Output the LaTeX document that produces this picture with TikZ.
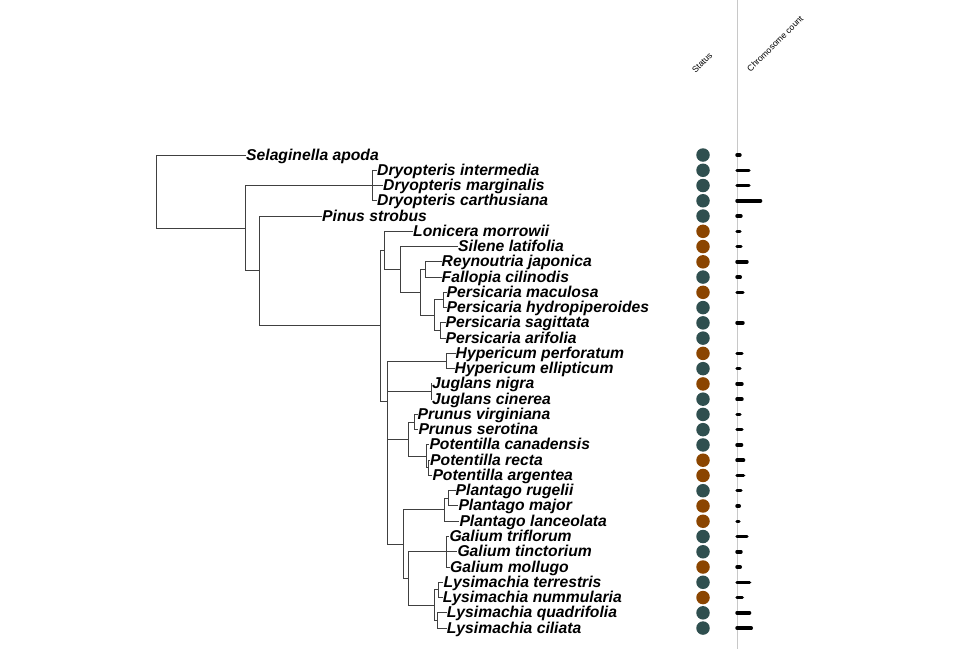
\documentclass[tikz,border=0pt]{standalone}
\usepackage{fontspec}
\setmainfont{Liberation Sans}
\definecolor{stteal}{HTML}{2F4F4F}
\definecolor{stbrown}{HTML}{8B4500}
\definecolor{branchcol}{HTML}{404040}
\definecolor{axiscol}{HTML}{C8C8C8}
\begin{document}
\begin{tikzpicture}[x=1pt,y=-1pt,
  branch/.style={draw=branchcol,line width=1pt},
  tiplab/.style={anchor=base west,inner sep=0pt,font=\fontsize{15.7}{17}\selectfont\bfseries\itshape},
  headlab/.style={anchor=base west,inner sep=0pt,rotate=45,font=\fontsize{8.6}{10}\selectfont},
  dot/.style={circle,inner sep=0pt,minimum size=13.5pt,draw=none},
  bar/.style={line width=3.5pt,line cap=round,draw=black}]
\useasboundingbox (0,0) rectangle (960,649);
% tips and labels
\foreach \i/\x/\name in {
 1/246/Selaginella apoda,
 2/377/Dryopteris intermedia,
 3/383/Dryopteris marginalis,
 4/377/Dryopteris carthusiana,
 5/322/Pinus strobus,
 6/413/Lonicera morrowii,
 7/458/Silene latifolia,
 8/441.5/Reynoutria japonica,
 9/441.5/Fallopia cilinodis,
 10/446.5/Persicaria maculosa,
 11/446.5/Persicaria hydropiperoides,
 12/445.5/Persicaria sagittata,
 13/445.5/Persicaria arifolia,
 14/455.5/Hypericum perforatum,
 15/454.5/Hypericum ellipticum,
 16/432/Juglans nigra,
 17/432/Juglans cinerea,
 18/417.5/Prunus virginiana,
 19/418.3/Prunus serotina,
 20/429.3/Potentilla canadensis,
 21/430/Potentilla recta,
 22/432.3/Potentilla argentea,
 23/455.5/Plantago rugelii,
 24/458.3/Plantago major,
 25/459.3/Plantago lanceolata,
 26/449.3/Galium triflorum,
 27/457.3/Galium tinctorium,
 28/450/Galium mollugo,
 29/443.3/Lysimachia terrestris,
 30/442.7/Lysimachia nummularia,
 31/446.7/Lysimachia quadrifolia,
 32/446.7/Lysimachia ciliata}{
  \pgfmathsetmacro\yy{155+15.26*(\i-1)}
  \coordinate (t\i) at (\x,\yy);
  \node[tiplab] (l\i) at (\x,\yy+5) {\name};
}
% internal nodes
\coordinate (R) at (156,191.6);
\coordinate (N1) at (245.3,228.23);
\coordinate (D) at (372,185.52);
\coordinate (N2) at (259,270.94);
\coordinate (N3) at (380.7,325.84);
\coordinate (N4) at (384.7,250.38);
\coordinate (N5) at (400.7,269.45);
\coordinate (N6) at (420.7,292.34);
\coordinate (N7) at (425.7,269.45);
\coordinate (N8) at (434.5,315.23);
\coordinate (N9) at (443,299.97);
\coordinate (N10) at (440,330.49);
\coordinate (N11a) at (387.3,401.3);
\coordinate (N11b) at (387.3,441.6);
\coordinate (N11c) at (387.3,491.68);
\coordinate (Hyp) at (446.3,361.01);
\coordinate (Jug) at (431.3,391.53);
\coordinate (Ros) at (408,439.22);
\coordinate (Pru) at (414,422.05);
\coordinate (Pot) at (426.3,456.39);
\coordinate (Pot2) at (428,467.83);
\coordinate (PGL) at (403,544.13);
\coordinate (Pla) at (444.7,509.80);
\coordinate (Pla2) at (448,498.35);
\coordinate (GL) at (408,578.47);
\coordinate (Gal) at (446.3,551.76);
\coordinate (Lys) at (434.7,605.17);
\coordinate (Lys1) at (438,589.91);
\coordinate (Lys2) at (437.3,620.43);
% branches
\foreach \p/\c in {R/t1,R/N1,N1/D,N1/N2,D/t2,D/t3,D/t4,N2/t5,N2/N3,
  N3/N4,N3/N11a,N4/t6,N4/N5,N5/t7,N5/N6,N6/N7,N6/N8,N7/t8,N7/t9,
  N8/N9,N8/N10,N9/t10,N9/t11,N10/t12,N10/t13,
  N11a/Hyp,N11a/N11b,Hyp/t14,Hyp/t15,N11b/Jug,N11b/N11c,Jug/t16,Jug/t17,
  N11c/Ros,N11c/PGL,Ros/Pru,Ros/Pot,Pru/t18,Pru/t19,Pot/t20,Pot/Pot2,
  Pot2/t21,Pot2/t22,PGL/Pla,PGL/GL,Pla/Pla2,Pla/t25,Pla2/t23,Pla2/t24,
  GL/Gal,GL/Lys,Gal/t26,Gal/t27,Gal/t28,Lys/Lys1,Lys/Lys2,
  Lys1/t29,Lys1/t30,Lys2/t31,Lys2/t32}{
  \draw[branch] (\p) |- (\c);
}
% header
\coordinate (axtop) at (737.7,0);
\coordinate (axbot) at (737.7,649);
\draw[axiscol,line width=0.9pt] (axtop) -- (axbot);
\node[headlab] (hstatus) at (695.5,73.5) {Status};
\node[headlab] (hchrom) at (750.5,72.5) {Chromosome count};
% status dots
\foreach \i/\c in {1/stteal,2/stteal,3/stteal,4/stteal,5/stteal,6/stbrown,7/stbrown,8/stbrown,
  9/stteal,10/stbrown,11/stteal,12/stteal,13/stteal,14/stbrown,15/stteal,16/stbrown,
  17/stteal,18/stteal,19/stteal,20/stteal,21/stbrown,22/stbrown,23/stteal,24/stbrown,
  25/stbrown,26/stteal,27/stteal,28/stbrown,29/stteal,30/stbrown,31/stteal,32/stteal}{
  \pgfmathsetmacro\yy{155+15.26*(\i-1)}
  \node[dot,fill=\c] (s\i) at (703,\yy) {};
}
% chromosome bars
\foreach \i/\e in {1/741.7,2/750.7,3/750.7,4/762.3,5/742.7,6/741.7,7/742.7,8/748.7,
  9/742,10/744.7,12/744.7,14/743.7,15/741.7,16/743.7,17/743.7,18/741.7,19/743.7,
  20/743.3,21/745.3,22/745.3,23/742.7,24/741,25/740.7,26/748.7,27/742.7,28/742,
  29/751.3,30/744,31/751.3,32/753}{
  \pgfmathsetmacro\yy{155+15.26*(\i-1)}
  \pgfmathsetmacro\ee{\e-1.75}
  \coordinate (b\i) at (737,\yy);
  \coordinate (e\i) at (\ee,\yy);
  \draw[bar] (b\i) -- (e\i);
}
\end{tikzpicture}
\end{document}
